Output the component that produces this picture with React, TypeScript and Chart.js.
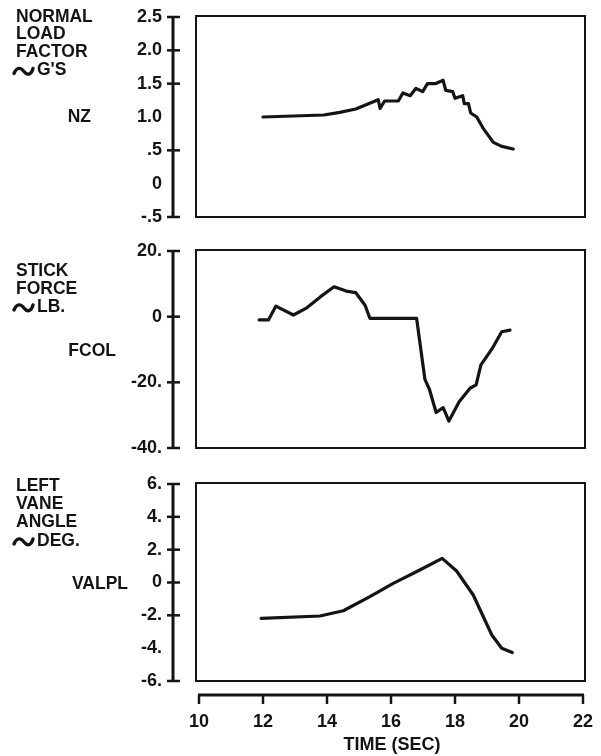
import React, { useEffect, useRef } from "react";
import { Chart, registerables } from "chart.js";

Chart.register(...registerables);

const FONT = "'Liberation Sans', Arial, Helvetica, sans-serif";
const INK = "#141414";

// ---- shared time axis ----
const timeTickValues = [10, 12, 14, 16, 18, 20, 22];
const timeTickLabels = ["10", "12", "14", "16", "18", "20", "22"];
const timeTitle = "TIME (SEC)";

// ---- panel 1 : NZ ----
const nzTime = [12.0, 13.9, 14.4, 14.9, 15.6, 15.66, 15.8, 16.23, 16.37, 16.6, 16.78, 16.99, 17.14, 17.38, 17.63, 17.71, 17.93, 18.0, 18.24, 18.29, 18.42, 18.49, 18.68, 18.88, 19.2, 19.46, 19.82];
const nzValues = [1.0, 1.03, 1.07, 1.12, 1.26, 1.13, 1.24, 1.24, 1.36, 1.32, 1.43, 1.38, 1.5, 1.5, 1.55, 1.4, 1.38, 1.28, 1.32, 1.2, 1.2, 1.06, 1.0, 0.83, 0.62, 0.56, 0.52];
const nzTickValues = [2.5, 2.0, 1.5, 1.0, 0.5, 0, -0.5];
const nzTickLabels = ["2.5", "2.0", "1.5", "1.0", ".5", "0", "-.5"];
const nzTickMarks = [2.5, 2.0, 1.5, 0.5, -0.5];
const nzTitleLines = ["NORMAL", "LOAD", "FACTOR", "~G'S"];
const nzName = "NZ";

// ---- panel 2 : FCOL ----
const fcolTime = [11.88, 12.17, 12.4, 12.95, 13.37, 13.8, 14.22, 14.6, 14.9, 15.19, 15.34, 16.8, 17.06, 17.2, 17.41, 17.63, 17.81, 18.13, 18.47, 18.66, 18.81, 19.15, 19.46, 19.72];
const fcolValues = [-1, -1, 3.2, 0.5, 2.7, 6.1, 9.1, 7.8, 7.3, 3.5, -0.5, -0.5, -19.1, -22.1, -29.2, -27.7, -31.8, -25.9, -21.8, -20.8, -14.7, -9.9, -4.6, -4.1];
const fcolTickValues = [20, 0, -20, -40];
const fcolTickLabels = ["20.", "0", "-20.", "-40."];
const fcolTickMarks = [20, 0, -20, -40];
const fcolTitleLines = ["STICK", "FORCE", "~LB."];
const fcolName = "FCOL";

// ---- panel 3 : VALPL ----
const valplTime = [11.94, 13.78, 14.51, 15.34, 16.07, 16.9, 17.6, 18.05, 18.57, 19.15, 19.46, 19.79];
const valplValues = [-2.18, -2.04, -1.72, -0.86, -0.05, 0.76, 1.47, 0.7, -0.76, -3.2, -4.0, -4.27];
const valplTickValues = [6, 4, 2, 0, -2, -4, -6];
const valplTickLabels = ["6.", "4.", "2.", "0", "-2.", "-4.", "-6."];
const valplTickMarks = [6, 4, 2, 0, -2, -6];
const valplTitleLines = ["LEFT", "VANE", "ANGLE", "~DEG."];
const valplName = "VALPL";

type Panel = {
  time: number[];
  values: number[];
  tickValues: number[];
  tickLabels: string[];
  tickMarks: number[];
  titleLines: string[];
  name: string;
  top: number;
  bottom: number;
  titleTop: number;
  titleGap: number[];
  nameY: number;
  nameRight: number;
  showTime: boolean;
};

const W = 601;
const H = 756;
const AREA_LEFT = 199;
const AREA_RIGHT = 583;

const panels: Panel[] = [
  {
    time: nzTime, values: nzValues, tickValues: nzTickValues, tickLabels: nzTickLabels,
    tickMarks: nzTickMarks, titleLines: nzTitleLines, name: nzName,
    top: 17, bottom: 217, titleTop: 17, titleGap: [0, 17.5, 35.5, 53.5], nameY: 117, nameRight: 91, showTime: false,
  },
  {
    time: fcolTime, values: fcolValues, tickValues: fcolTickValues, tickLabels: fcolTickLabels,
    tickMarks: fcolTickMarks, titleLines: fcolTitleLines, name: fcolName,
    top: 251, bottom: 448, titleTop: 271, titleGap: [0, 18, 36], nameY: 351, nameRight: 116, showTime: false,
  },
  {
    time: valplTime, values: valplValues, tickValues: valplTickValues, tickLabels: valplTickLabels,
    tickMarks: valplTickMarks, titleLines: valplTitleLines, name: valplName,
    top: 484, bottom: 681, titleTop: 486, titleGap: [0, 18, 36, 55], nameY: 584, nameRight: 128, showTime: true,
  },
];

function drawTilde(ctx: CanvasRenderingContext2D, x: number, y: number) {
  // bold swung dash
  ctx.save();
  ctx.lineWidth = 3.4;
  ctx.lineCap = "round";
  ctx.beginPath();
  ctx.moveTo(x, y + 2);
  ctx.bezierCurveTo(x + 3, y - 5, x + 7, y - 4, x + 10, y);
  ctx.bezierCurveTo(x + 13, y + 4, x + 17, y + 4, x + 19, y - 3);
  ctx.stroke();
  ctx.restore();
}

function makeDecorPlugin(p: Panel) {
  return {
    id: "decor",
    afterDraw(chart: any) {
      const ctx: CanvasRenderingContext2D = chart.ctx;
      const ca = chart.chartArea;
      const xs = chart.scales.x;
      const ys = chart.scales.y;
      ctx.save();
      ctx.strokeStyle = INK;
      ctx.fillStyle = INK;
      ctx.lineCap = "butt";

      // frame box
      ctx.lineWidth = 2;
      ctx.strokeRect(ca.left - 3, ca.top - 1, ca.right - ca.left + 5, ca.bottom - ca.top + 1);

      // detached vertical axis
      const ax = ca.left - 26;
      const yTop = ys.getPixelForValue(ys.max);
      const yBot = ys.getPixelForValue(ys.min);
      ctx.lineWidth = 3;
      ctx.beginPath();
      ctx.moveTo(ax, yTop - 1);
      ctx.lineTo(ax, yBot + 1);
      ctx.stroke();
      ctx.lineWidth = 2.5;
      for (const v of p.tickMarks) {
        const y = ys.getPixelForValue(v);
        ctx.beginPath();
        ctx.moveTo(ax - 6, y);
        ctx.lineTo(ax + 7, y);
        ctx.stroke();
      }

      // detached time axis
      if (p.showTime) {
        const ay = ca.bottom + 14;
        const x0 = xs.getPixelForValue(timeTickValues[0]);
        const x1 = xs.getPixelForValue(timeTickValues[timeTickValues.length - 1]);
        ctx.lineWidth = 3;
        ctx.beginPath();
        ctx.moveTo(x0 - 1, ay);
        ctx.lineTo(x1 + 1, ay);
        ctx.stroke();
        ctx.lineWidth = 2.5;
        for (const v of timeTickValues) {
          const x = xs.getPixelForValue(v);
          ctx.beginPath();
          ctx.moveTo(x, ay);
          ctx.lineTo(x, ay + 9);
          ctx.stroke();
        }
        ctx.font = `bold 18px ${FONT}`;
        ctx.textAlign = "center";
        ctx.textBaseline = "middle";
        ctx.fillText(timeTitle, 392, 745);
      }

      // side titles
      ctx.textBaseline = "middle";
      ctx.textAlign = "left";
      p.titleLines.forEach((line, i) => {
        const y = p.titleTop + p.titleGap[i];
        let x = 16;
        let txt = line;
        if (line.startsWith("~")) {
          drawTilde(ctx, 14, y + 1);
          x = 37;
          txt = line.slice(1);
        }
        ctx.font = `bold 17.5px ${FONT}`;
        ctx.fillText(txt, x, y);
      });
      ctx.font = `bold 17.5px ${FONT}`;
      ctx.textAlign = "right";
      ctx.fillText(p.name, p.nameRight, p.nameY);
      ctx.restore();
    },
  };
}

function PanelChart({ p }: { p: Panel }) {
  const ref = useRef<HTMLCanvasElement | null>(null);
  useEffect(() => {
    if (!ref.current) return;
    const chart = new Chart(ref.current, {
      type: "line",
      data: {
        datasets: [
          {
            data: p.time.map((t, i) => ({ x: t, y: p.values[i] })),
            borderColor: INK,
            borderWidth: 3.2,
            pointRadius: 0,
            tension: 0,
            fill: false,
            borderJoinStyle: "round",
            borderCapStyle: "round",
          },
        ],
      },
      options: {
        animation: false,
        responsive: false,
        events: [],
        layout: {
          padding: {
            left: 0,
            right: W - AREA_RIGHT,
            top: p.top,
            bottom: p.showTime ? 0 : H - p.bottom,
          },
        },
        plugins: {
          legend: { display: false },
          tooltip: { enabled: false },
          title: { display: false },
        },
        scales: {
          x: {
            type: "linear",
            min: timeTickValues[0],
            max: timeTickValues[timeTickValues.length - 1],
            display: p.showTime,
            grid: { display: false, drawTicks: false },
            border: { display: false },
            afterBuildTicks: (s: any) => {
              s.ticks = timeTickValues.map((v) => ({ value: v }));
            },
            afterFit: (s: any) => {
              if (p.showTime) {
                s.height = H - p.bottom;
              }
              s.paddingLeft = 0;
              s.paddingRight = 0;
            },
            ticks: {
              autoSkip: false,
              maxRotation: 0,
              padding: 30,
              color: INK,
              font: { family: FONT, size: 18, weight: "bold" },
              callback: (v: any) => timeTickLabels[timeTickValues.indexOf(Number(v))] ?? "",
            },
          },
          y: {
            type: "linear",
            min: p.tickValues[p.tickValues.length - 1],
            max: p.tickValues[0],
            grid: { display: false, drawTicks: false },
            border: { display: false },
            afterBuildTicks: (s: any) => {
              s.ticks = p.tickValues.map((v) => ({ value: v }));
            },
            afterFit: (s: any) => {
              s.width = AREA_LEFT;
              s.paddingTop = 0;
              s.paddingBottom = 0;
            },
            ticks: {
              autoSkip: false,
              padding: 37,
              color: INK,
              font: { family: FONT, size: 18, weight: "bold" },
              callback: (v: any) => p.tickLabels[p.tickValues.indexOf(Number(v))] ?? "",
            },
          },
        },
      } as any,
      plugins: [makeDecorPlugin(p)],
    });
    return () => chart.destroy();
  }, [p]);
  return (
    <canvas
      ref={ref}
      width={W}
      height={H}
      style={{ position: "absolute", left: 0, top: 0, width: W, height: H }}
    />
  );
}

export default function App() {
  return (
    <div style={{ position: "absolute", left: 0, top: 0, width: W, height: H, background: "#fff", overflow: "hidden" }}>
      {panels.map((p, i) => (
        <PanelChart key={i} p={p} />
      ))}
    </div>
  );
}
